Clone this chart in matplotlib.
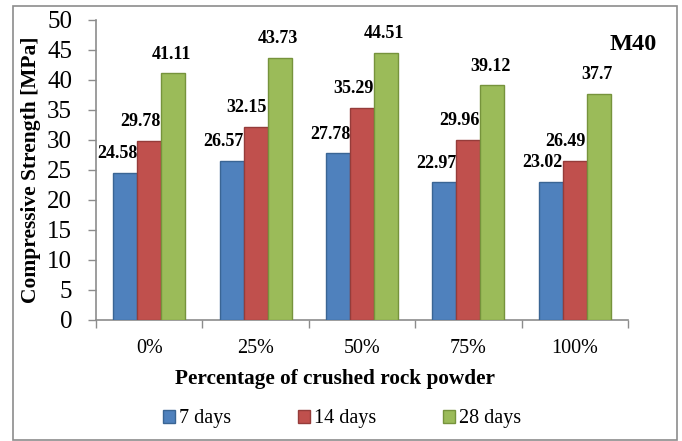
import matplotlib
matplotlib.use("Agg")
import matplotlib.pyplot as plt
from matplotlib.patches import Rectangle
import numpy as np

categories = ["0%", "25%", "50%", "75%", "100%"]
days_7 = [24.58, 26.57, 27.78, 22.97, 23.02]
days_14 = [29.78, 32.15, 35.29, 29.96, 26.49]
days_28 = [41.11, 43.73, 44.51, 39.12, 37.7]
series_names = ["7 days", "14 days", "28 days"]
y_ticks = [0, 5, 10, 15, 20, 25, 30, 35, 40, 45, 50]

plt.rcParams["font.family"] = ["Liberation Serif", "DejaVu Serif"]

W, H = 682, 441
PT = 0.72  # points per pixel at 100 dpi
fig = plt.figure(figsize=(W / 100, H / 100), dpi=100)

# outer chart-area border
fig.patches.append(Rectangle((13 / W, 1 / H), (677 - 13) / W, (440 - 6) / H,
                             transform=fig.transFigure, fill=False,
                             edgecolor="#8c8c8c", linewidth=1.2))

ax = fig.add_axes([96 / W, (H - 320) / H, (628 - 96) / W, 300 / H])

faces = ["#4F81BD", "#C0504D", "#9BBB59"]
edges = ["#3A6594", "#953C3A", "#76933C"]
data = [days_7, days_14, days_28]
x = np.arange(len(categories))
bw = 0.225
label_dx = [-8, -9, -2]      # label offsets in pixels
label_dy = [19, 19.5, 19]

for i, (vals, fc, ec) in enumerate(zip(data, faces, edges)):
    pos = x + (i - 1) * bw
    ax.bar(pos, vals, width=bw, color=fc, edgecolor=ec, linewidth=1.0,
           label=series_names[i], zorder=3)
    for px, v in zip(pos, vals):
        ax.annotate(f"{v:g}", (px, v),
                    xytext=(label_dx[i] * PT, label_dy[i] * PT),
                    textcoords="offset points", ha="center", va="center",
                    fontsize=13, fontweight="bold")

ax.set_xlim(-0.5, len(categories) - 0.5)
ax.set_ylim(0, 50)
ax.set_yticks(y_ticks)
ax.tick_params(axis="y", labelsize=18, length=8 * PT, width=1,
               color="#8c8c8c", pad=16 * PT)
ax.set_xticks(x)
ax.set_xticklabels(categories)
ax.set_xticks(np.arange(-0.5, len(categories)), minor=True)
ax.tick_params(axis="x", which="major", length=0, labelsize=14.5, pad=14)
ax.tick_params(axis="x", which="minor", length=6, width=1, color="#8c8c8c")

for s in ("top", "right"):
    ax.spines[s].set_visible(False)
for s in ("left", "bottom"):
    ax.spines[s].set_color("#8c8c8c")
    ax.spines[s].set_linewidth(1.2)

fig.text(31 / W, (H - 170) / H, "Compressive Strength [MPa]", rotation=90,
         ha="center", va="center", fontsize=15.5, fontweight="bold")
fig.text(335 / W, (H - 379) / H, "Percentage of crushed rock powder",
         ha="center", va="center", fontsize=15.3, fontweight="bold")

fig.text(657 / W, (H - 44) / H, "M40", ha="right", va="center",
         fontsize=17.5, fontweight="bold")

fig.legend(loc="center", bbox_to_anchor=(342 / W, (H - 419) / H), ncol=3,
           frameon=False, fontsize=14.5, handlelength=0.6, handleheight=0.6,
           handletextpad=0.2, columnspacing=3.3, borderpad=0, borderaxespad=0)

fig.savefig("out.png", dpi=100)
